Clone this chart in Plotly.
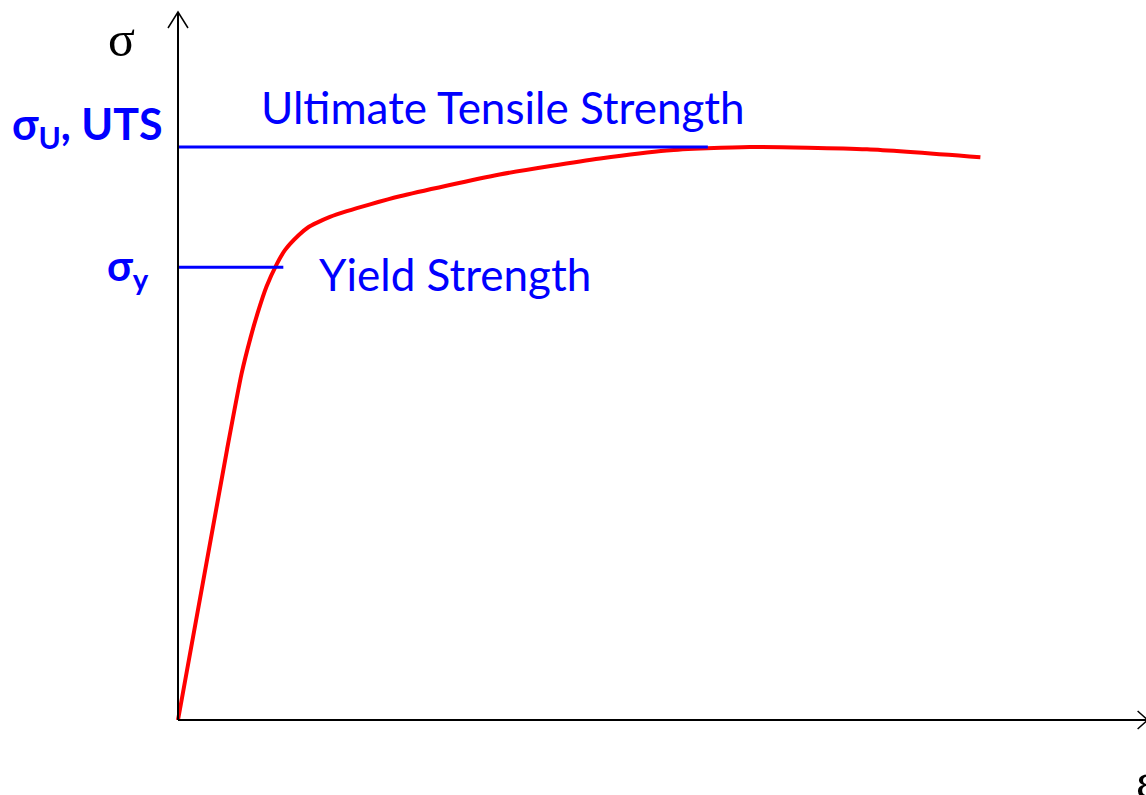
import plotly.graph_objects as go

# stress-strain curve (strain: -, stress: MPa)
strain = [0.0, 0.061, 0.079, 0.090, 0.099, 0.110, 0.123, 0.133, 0.150, 0.162,
          0.173, 0.189, 0.210, 0.239, 0.276, 0.400, 0.525, 0.608, 0.711,
          0.857, 0.998]
stress = [0, 236, 302, 333, 355, 378, 398, 410, 423, 430,
          434, 439, 444, 450, 457, 476, 490, 497, 500,
          498, 491]

uts = 500
yield_strength = 395
uts_line_end = 0.659
yield_line_end = 0.131

x_max = 1.206
y_max = 617.8

# page pixel scale (data per pixel), origin sits at pixel (178, 720)
PX_X = 1 / 804
PX_Y = 0.8726


def px(sx, sy):
    return (sx - 178) * PX_X, (720 - sy) * PX_Y


BLUE = "#0000ff"
RED = "#ff0000"

fig = go.Figure()

fig.add_trace(go.Scatter(
    x=strain, y=stress, mode="lines",
    line=dict(color=RED, width=4, shape="spline", smoothing=0.6),
    hoverinfo="skip",
))

fig.add_trace(go.Scatter(
    x=[0, uts_line_end], y=[uts, uts], mode="lines",
    line=dict(color=BLUE, width=3), hoverinfo="skip",
))
fig.add_trace(go.Scatter(
    x=[0, yield_line_end], y=[yield_strength, yield_strength], mode="lines",
    line=dict(color=BLUE, width=3), hoverinfo="skip",
))

# axes with open arrow heads
axis = dict(color="black", width=2)
fig.add_shape(type="line", x0=0, y0=0, x1=0, y1=y_max, line=axis)
fig.add_shape(type="line", x0=0, y0=0, x1=x_max, y1=0, line=axis)
fig.add_shape(type="path",
              path=f"M {-10*PX_X},{y_max-16*PX_Y} L 0,{y_max} L {10*PX_X},{y_max-16*PX_Y}",
              line=dict(color="black", width=1.5))
fig.add_shape(type="path",
              path=f"M {x_max-10*PX_X},{9*PX_Y} L {x_max},0 L {x_max-10*PX_X},{-9*PX_Y}",
              line=dict(color="black", width=1.5))

x, y = px(121.5, 39)
fig.add_annotation(x=x, y=y, text="σ", showarrow=False,
                   font=dict(family="Liberation Serif", size=50, color="black"))
x, y = px(165, 126.5)
fig.add_annotation(x=x, y=y, text="σ<sub>U</sub>, UTS",
                   showarrow=False, xanchor="right",
                   font=dict(family="Lato", size=43, color=BLUE, weight="bold"))
x, y = px(151, 268)
fig.add_annotation(x=x, y=y, text="σ<sub>y</sub>",
                   showarrow=False, xanchor="right",
                   font=dict(family="Lato", size=42, color=BLUE, weight="bold"))
x, y = px(259, 107)
fig.add_annotation(x=x, y=y, text="Ultimate Tensile Strength",
                   showarrow=False, xanchor="left",
                   font=dict(family="Lato", size=44, color=BLUE))
x, y = px(317, 274)
fig.add_annotation(x=x, y=y, text="Yield Strength",
                   showarrow=False, xanchor="left",
                   font=dict(family="Lato", size=44, color=BLUE))
# strain symbol sits at the right edge, partly cut off
fig.add_annotation(xref="paper", yref="paper", x=1, y=1 - 781 / 795,
                   xanchor="left", xshift=-12, yshift=-30, text="ε", showarrow=False,
                   font=dict(family="Liberation Serif", size=50, color="black"))

fig.update_xaxes(range=[-178 * PX_X, (1146 - 178) * PX_X], visible=False)
fig.update_yaxes(range=[-75 * PX_Y, 720 * PX_Y], visible=False)
fig.update_layout(
    width=1146, height=795,
    margin=dict(l=0, r=0, t=0, b=0),
    plot_bgcolor="white", paper_bgcolor="white",
    showlegend=False,
)

fig.write_html("out.html", config={"displayModeBar": False},
               post_script="document.body.style.margin='0';")
